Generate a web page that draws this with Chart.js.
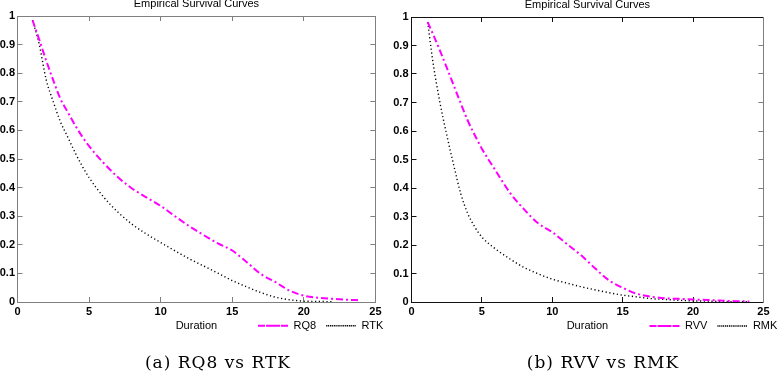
<!DOCTYPE html>
<html><head><meta charset="utf-8">
<script src="https://cdn.jsdelivr.net/npm/chart.js@4.4.1/dist/chart.umd.min.js"></script>
<style>
html,body{margin:0;padding:0;background:#fff;}
body{width:778px;height:374px;position:relative;overflow:hidden;}
.pane{position:absolute;top:0;height:374px;}
.cap{position:absolute;top:352px;width:300px;text-align:center;font-family:'DejaVu Serif',serif;font-size:17px;line-height:20px;letter-spacing:1px;color:#000;white-space:nowrap;}
</style></head><body>
<div class="pane" style="left:0;width:390px"><canvas id="cA" width="390" height="374"></canvas></div>
<div class="pane" style="left:390px;width:388px"><canvas id="cB" width="388" height="374"></canvas></div>
<div class="cap" id="capA" style="left:68px"></div>
<div class="cap" id="capB" style="left:453px"></div>
<script>
// ---- data ----
const chartTitle = 'Empirical Survival Curves';
const xAxisLabel = 'Duration';
const xTickValues = [0, 5, 10, 15, 20, 25];
const xTickLabels = ['0', '5', '10', '15', '20', '25'];
const yTickValues = [0, 0.1, 0.2, 0.3, 0.4, 0.5, 0.6, 0.7, 0.8, 0.9, 1];
const yTickLabels = ['0', '0.1', '0.2', '0.3', '0.4', '0.5', '0.6', '0.7', '0.8', '0.9', '1'];
const captions = ['(a) RQ8 vs RTK', '(b) RVV vs RMK'];
const seriesNamesA = ['RQ8', 'RTK'];
const seriesNamesB = ['RVV', 'RMK'];

const durationA = [1.05, 1.5, 2, 2.5, 3, 3.5, 4, 4.5, 5, 6, 7, 8, 9, 10, 11, 12, 13, 14, 15, 16, 17, 18, 19, 20, 21, 22, 23, 24];
const survivalRQ8 = [0.985, 0.92, 0.845, 0.775, 0.71, 0.665, 0.62, 0.58, 0.545, 0.487, 0.437, 0.397, 0.366, 0.336, 0.30, 0.265, 0.234, 0.205, 0.18, 0.14, 0.098, 0.07, 0.04, 0.022, 0.015, 0.011, 0.008, 0.006];
const survivalRTK = [0.985, 0.905, 0.778, 0.70, 0.63, 0.578, 0.525, 0.477, 0.435, 0.368, 0.315, 0.272, 0.238, 0.208, 0.179, 0.151, 0.126, 0.101, 0.075, 0.053, 0.033, 0.017, 0.008, 0.003, 0.002, 0.001, null, null];

const durationB = [1.15, 1.5, 2, 2.5, 3, 3.5, 4, 4.5, 5, 6, 7, 8, 9, 10, 11, 12, 13, 14, 15, 16, 17, 18, 19, 20, 21, 22, 23, 24];
const survivalRVV = [0.982, 0.943, 0.885, 0.823, 0.76, 0.697, 0.636, 0.585, 0.538, 0.459, 0.383, 0.325, 0.276, 0.245, 0.205, 0.166, 0.12, 0.077, 0.05, 0.029, 0.019, 0.013, 0.011, 0.009, 0.007, 0.005, 0.003, 0.002];
const survivalRMK = [0.982, 0.85, 0.705, 0.587, 0.48, 0.38, 0.31, 0.263, 0.228, 0.185, 0.151, 0.121, 0.099, 0.08, 0.067, 0.054, 0.043, 0.033, 0.024, 0.018, 0.012, 0.009, 0.006, 0.004, 0.003, 0.002, 0.001, 0.001];

// ---- rendering ----
const SANS = "'Liberation Sans', Arial, sans-serif";
const legendPlace = {
  id: 'legendPlace',
  afterLayout(chart, args, opts) {
    const lg = chart.legend;
    if (!lg) return;
    const pad = opts.pad;
    lg.left = opts.x - pad;
    lg.right = lg.left + 1000;
    lg.top = opts.y - opts.fs / 2 - pad;
    lg.bottom = lg.top + lg.height;
  }
};

function pts(xs, ys) { return xs.map((x, i) => ({ x: x, y: ys[i] })); }

function makeChart(id, xs, s1, s2, names, g) {
  const tickFont = { family: SANS, size: 11, weight: 'bold' };
  const fixTicks = (vals) => (scale) => { scale.ticks = vals.map(v => ({ value: v })); };
  const axisBase = (color) => ({
    grid: { drawOnChartArea: false, drawTicks: true, tickLength: -5, color: color, lineWidth: 1 },
    border: { display: true, color: color, width: 1 }
  });
  return new Chart(document.getElementById(id), {
    type: 'line',
    data: {
      datasets: [
        { label: names[0], data: pts(xs, s1), borderColor: '#ff00ff', backgroundColor: 'rgba(0,0,0,0)',
          borderWidth: 2, borderDash: [7, 3, 2, 3], pointRadius: 0, cubicInterpolationMode: 'monotone', fill: false },
        { label: names[1], data: pts(xs, s2), borderColor: '#000000', backgroundColor: 'rgba(0,0,0,0)',
          borderWidth: 1.4, borderDash: [1.2, 2.6], pointRadius: 0, cubicInterpolationMode: 'monotone', fill: false }
      ]
    },
    options: {
      responsive: false, animation: false, devicePixelRatio: 1,
      layout: { padding: { left: 0, right: g.padRight, top: 0, bottom: 10.7 } },
      scales: {
        x: Object.assign(axisBase(g.cBottom), {
          type: 'linear', position: 'bottom', min: 0, max: 25,
          afterBuildTicks: fixTicks(xTickValues),
          afterFit: (s) => { s.height = 30.3; },
          ticks: { font: tickFont, color: '#000', padding: 8.5, maxRotation: 0, autoSkip: false,
            callback: (v, i) => xTickLabels[i] },
          title: { display: true, text: xAxisLabel, color: '#000', font: { family: SANS, size: 11 }, padding: { top: 0, bottom: 0 } }
        }),
        x2: Object.assign(axisBase(g.cTop), {
          type: 'linear', position: 'top', min: 0, max: 25,
          afterBuildTicks: fixTicks(xTickValues),
          afterFit: (s) => { s.height = 0; },
          ticks: { display: false }
        }),
        y: Object.assign(axisBase(g.cLeft), {
          type: 'linear', position: 'left', min: 0, max: 1,
          afterBuildTicks: fixTicks(yTickValues),
          afterFit: (s) => { s.width = g.yWidth; },
          ticks: { font: tickFont, color: '#000', padding: g.yPad, autoSkip: false,
            callback: (v, i) => yTickLabels[i] }
        }),
        y2: Object.assign(axisBase(g.cRight), {
          type: 'linear', position: 'right', min: 0, max: 1,
          afterBuildTicks: fixTicks(yTickValues),
          afterFit: (s) => { s.width = 0; },
          ticks: { display: false }
        })
      },
      plugins: {
        tooltip: { enabled: false },
        title: { display: true, text: chartTitle, fullSize: false, color: '#000',
          font: { family: SANS, size: 11, weight: 'normal', lineHeight: 1.2 },
          padding: { top: g.titleTop, bottom: 5.9 } },
        legend: {
          display: true, position: 'bottom', align: 'start',
          labels: { boxWidth: 30, boxHeight: 0, padding: 10, color: '#000', font: { family: SANS, size: 11 } }
        },
        legendPlace: { x: g.legendX, y: g.legendY, pad: 10, fs: 11 }
      }
    },
    plugins: [legendPlace]
  });
}

makeChart('cA', durationA, survivalRQ8, survivalRTK, seriesNamesA, {
  padRight: 10.5, yWidth: 17.5, yPad: 7.5, titleTop: -3.1, legendX: 258, legendY: 325.7,
  cBottom: '#7f7f7f', cTop: '#7f7f7f', cLeft: '#7f7f7f', cRight: '#7f7f7f'
});
makeChart('cB', durationB, survivalRVV, survivalRMK, seriesNamesB, {
  padRight: 7.5, yWidth: 21.5, yPad: 8, titleTop: -2.1, legendX: 259.5, legendY: 326,
  cBottom: '#111111', cTop: '#111111', cLeft: '#111111', cRight: '#7f7f7f'
});
document.getElementById('capA').textContent = captions[0];
document.getElementById('capB').textContent = captions[1];
</script>
</body></html>
